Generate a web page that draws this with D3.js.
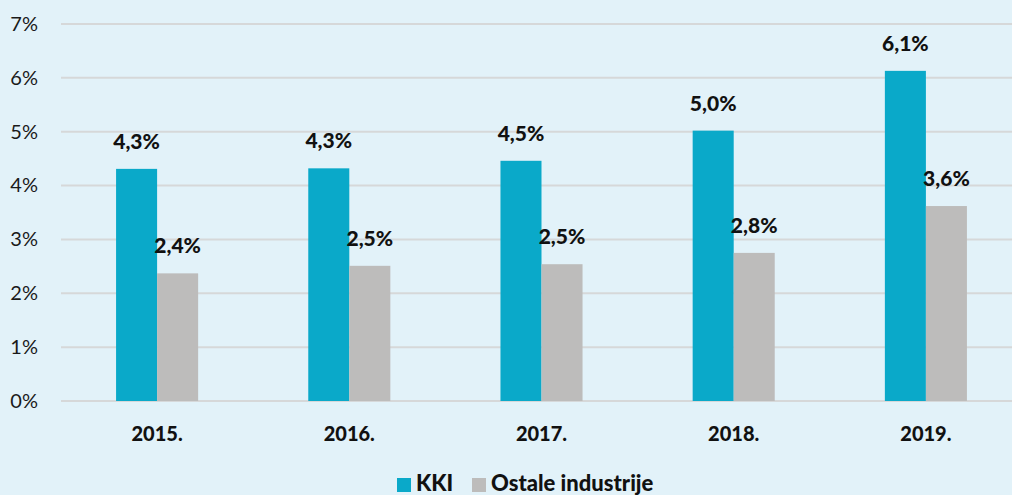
<!DOCTYPE html>
<html>
<head>
<meta charset="utf-8">
<script src="https://cdn.jsdelivr.net/npm/d3@7"></script>
<style>
  html, body { margin: 0; padding: 0; background: #e2f2f9; }
  svg { display: block; font-family: Lato, "Open Sans", sans-serif; }
</style>
</head>
<body>
<svg id="chart" width="1012" height="495"></svg>
<script>
// Chart data.
const years = ["2015.", "2016.", "2017.", "2018.", "2019."];
const seriesNames = ["KKI", "Ostale industrije"];
const kkiValues = [4.31, 4.32, 4.46, 5.02, 6.13];
const ostaleValues = [2.37, 2.51, 2.54, 2.75, 3.62];
const yTicks = [0, 1, 2, 3, 4, 5, 6, 7];

const colors = ["#0aa9c9", "#bdbcbb"];
const series = [kkiValues, ostaleValues];

const svg = d3.select("#chart");
const width = 1012;
const height = 495;

// Plot area (extends a little past the right edge, like the original).
const plot = { left: 61, right: 1022, top: 24, bottom: 401 };

const y = d3.scaleLinear().domain([0, 7]).range([plot.bottom, plot.top]);

const x0 = d3
  .scaleBand()
  .domain(years)
  .range([plot.left, plot.right])
  .paddingInner(0.573)
  .paddingOuter(0.2865);

const x1 = d3.scaleBand().domain(seriesNames).range([0, x0.bandwidth()]);

svg.append("rect").attr("width", width).attr("height", height).attr("fill", "#e2f2f9");

// Gridlines.
svg
  .append("g")
  .selectAll("line")
  .data(yTicks)
  .join("line")
  .attr("x1", plot.left)
  .attr("x2", width)
  .attr("y1", (d) => y(d))
  .attr("y2", (d) => y(d))
  .attr("stroke", "#d6d8d9")
  .attr("stroke-width", 2);

// Y axis labels.
const yAxis = d3
  .axisLeft(y)
  .tickValues(yTicks)
  .tickSize(0)
  .tickPadding(0)
  .tickFormat((d) => `${d}%`);

svg
  .append("g")
  .attr("transform", "translate(38,0)")
  .call(yAxis)
  .call((g) => g.select(".domain").remove())
  .call((g) =>
    g
      .selectAll("text")
      .attr("fill", "#1a1a1a")
      .style("font-size", "20px")
      .style("font-family", "Lato, sans-serif"),
  );

// Bars for each series.
series.forEach((values, si) => {
  const g = svg.append("g");
  g.selectAll("rect")
    .data(values)
    .join("rect")
    .attr("x", (d, i) => x0(years[i]) + x1(seriesNames[si]))
    .attr("y", (d) => y(d))
    .attr("width", x1.bandwidth())
    .attr("height", (d) => y(0) - y(d))
    .attr("fill", colors[si]);

  // Value labels.
  g.selectAll("text")
    .data(values)
    .join("text")
    .attr("x", (d, i) => x0(years[i]) + x1(seriesNames[si]) + x1.bandwidth() / 2)
    .attr("y", (d) => y(d) - 20)
    .attr("text-anchor", "middle")
    .attr("fill", "#111")
    .style("font-size", "21px")
    .style("font-weight", "900")
    .text((d) => `${d.toFixed(1).replace(".", ",")}%`);
});

// X axis labels.
const xAxis = d3.axisBottom(x0).tickSize(0).tickPadding(0);
svg
  .append("g")
  .attr("transform", `translate(0,${plot.bottom + 33})`)
  .call(xAxis)
  .call((g) => g.select(".domain").remove())
  .call((g) =>
    g
      .selectAll("text")
      .attr("fill", "#111")
      .attr("dy", "0.35em")
      .style("font-size", "20px")
      .style("font-weight", "900")
      .style("font-family", "Lato, sans-serif"),
  );

// Legend.
const legendX = [397, 472];
const legend = svg
  .append("g")
  .selectAll("g")
  .data(seriesNames)
  .join("g")
  .attr("transform", (d, i) => `translate(${legendX[i]},478)`);

legend
  .append("rect")
  .attr("width", 14)
  .attr("height", 14)
  .attr("fill", (d, i) => colors[i]);

legend
  .append("text")
  .attr("x", 19)
  .attr("y", 13)
  .attr("fill", "#111")
  .style("font-size", "22px")
  .style("font-weight", "900")
  .text((d) => d);
</script>
</body>
</html>
